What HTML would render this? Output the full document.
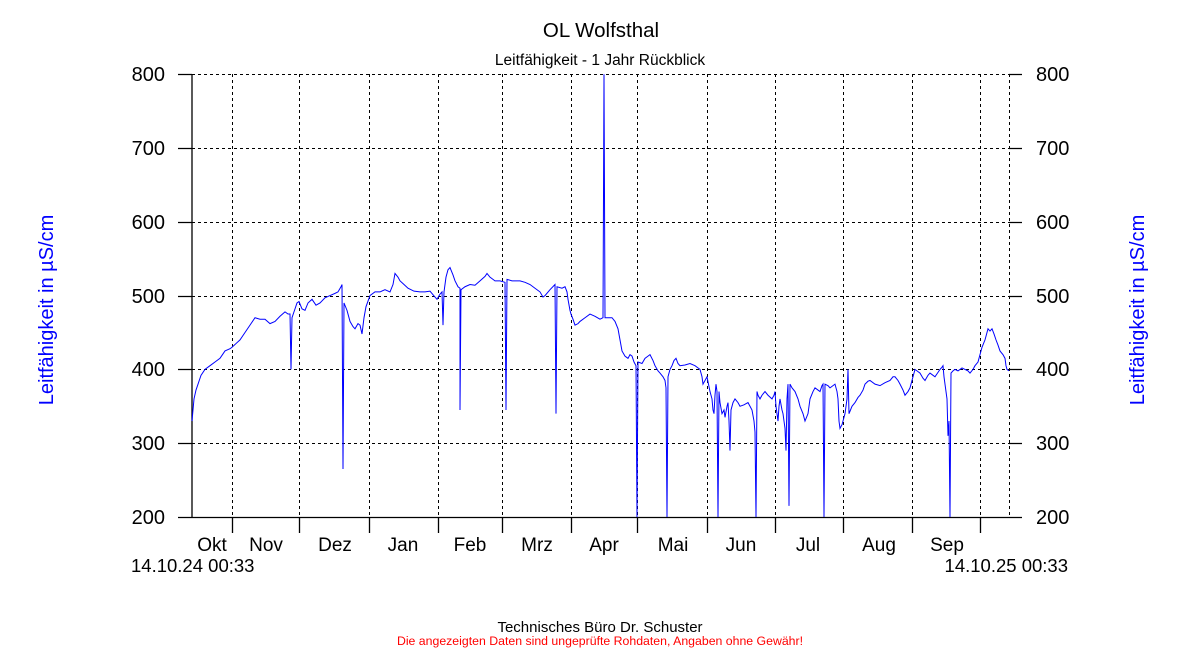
<!DOCTYPE html>
<html><head><meta charset="utf-8"><style>
html,body{margin:0;padding:0;background:#fff}
svg{display:block;font-family:"Liberation Sans",Arial,sans-serif}
</style></head><body>
<svg width="1200" height="650" viewBox="0 0 1200 650">
<text x="601" y="37" font-size="20.5" text-anchor="middle">OL Wolfsthal</text>
<text x="600" y="65" font-size="15.5" text-anchor="middle">Leitfähigkeit - 1 Jahr Rückblick</text>
<g stroke="#000" stroke-width="1" stroke-dasharray="3,3" fill="none">
<path d="M192 74.5H1022M192 148.5H1022M192 222.5H1022M192 296.5H1022M192 369.5H1022M192 443.5H1022"/>
<path d="M232.5 74V517M299.5 74V517M369.5 74V517M438.5 74V517M502.5 74V517M571.5 74V517M637.5 74V517M707.5 74V517M775.5 74V517M843.5 74V517M912.5 74V517M980.5 74V517M1009.5 74V517"/>
</g>
<g stroke="#000" stroke-width="1.3" fill="none">
<path d="M192 74V517M178 517.5H1022"/>
<path d="M178 74.5H192M178 148.5H192M178 222.5H192M178 296.5H192M178 369.5H192M178 443.5H192"/>
<path d="M1009 74.5H1022M1009 148.5H1022M1009 222.5H1022M1009 296.5H1022M1009 369.5H1022M1009 443.5H1022"/>
<path d="M232.5 517V533M299.5 517V533M369.5 517V533M438.5 517V533M502.5 517V533M571.5 517V533M637.5 517V533M707.5 517V533M775.5 517V533M843.5 517V533M912.5 517V533M980.5 517V533"/>
</g>
<g font-size="20" text-anchor="end">
<text x="165" y="81">800</text><text x="165" y="155">700</text><text x="165" y="229">600</text><text x="165" y="303">500</text><text x="165" y="376">400</text><text x="165" y="450">300</text><text x="165" y="524">200</text>
</g>
<g font-size="20" text-anchor="start">
<text x="1036" y="81">800</text><text x="1036" y="155">700</text><text x="1036" y="229">600</text><text x="1036" y="303">500</text><text x="1036" y="376">400</text><text x="1036" y="450">300</text><text x="1036" y="524">200</text>
</g>
<g font-size="19" text-anchor="middle">
<text x="212" y="551">Okt</text><text x="266" y="551">Nov</text><text x="335" y="551">Dez</text><text x="403" y="551">Jan</text><text x="470" y="551">Feb</text><text x="537" y="551">Mrz</text><text x="604" y="551">Apr</text><text x="673" y="551">Mai</text><text x="741" y="551">Jun</text><text x="808" y="551">Jul</text><text x="879" y="551">Aug</text><text x="947" y="551">Sep</text>
</g>
<text x="131" y="572" font-size="18.5">14.10.24 00:33</text>
<text x="1068" y="572" font-size="18.5" text-anchor="end">14.10.25 00:33</text>
<text transform="translate(53,310) rotate(-90)" font-size="20" fill="#0000ff" text-anchor="middle">Leitfähigkeit in µS/cm</text>
<text transform="translate(1144,310) rotate(-90)" font-size="20" fill="#0000ff" text-anchor="middle">Leitfähigkeit in µS/cm</text>
<g transform="matrix(1 0 0 -0.738 0 664.6)">
<polyline fill="none" stroke="#0000ff" stroke-width="1" vector-effect="non-scaling-stroke" points="192,330 193,345 194,360 196,372 198,380 201,392 205,400 210,405 215,410 220,415 225,425 230,428 232,430 236,435 240,440 245,450 250,460 255,470 260,468 265,468 270,462 275,465 280,472 285,478 288,475 290,475 291,400 292,470 295,482 297,490 299,492 302,482 305,480 308,490 312,495 316,487 320,490 325,497 330,500 335,503 338,505 341,512 342,515 343,265 344,490 347,480 350,465 353,458 355,455 358,462 360,460 362,448 364,470 366,485 370,500 375,505 380,505 385,508 390,505 393,515 395,530 398,525 400,520 404,515 408,510 414,506 420,505 425,505 430,506 435,498 437,495 440,502 442,505 443,460 444,505 446,525 448,535 450,538 453,528 455,520 458,512 460,510 460,345 461,508 465,512 470,515 475,514 480,520 485,526 487,530 490,525 493,522 495,520 500,520 505,518 506,345 507,522 512,520 520,520 525,518 530,515 535,510 540,505 543,498 545,500 550,508 555,515 556,340 557,512 562,510 565,512 567,505 568,495 570,480 571,475 573,468 575,460 578,462 580,465 585,470 590,475 595,472 600,468 603,470 604,800 605,470 608,470 612,470 615,465 618,455 620,440 622,425 625,418 628,415 630,420 632,418 634,410 636,405 637,200 638,410 642,408 645,415 648,418 650,420 653,412 655,405 658,398 660,395 663,390 665,385 666,375 667,200 668,390 670,400 672,405 674,412 676,415 678,408 680,405 685,406 690,408 695,405 700,400 702,390 703,380 705,385 707,390 710,370 712,360 713,345 714,340 715,365 716,380 717,370 718,200 719,370 720,355 722,340 724,345 725,335 727,350 728,355 729,330 730,290 731,345 733,355 735,360 738,355 740,350 744,352 748,355 750,350 752,345 754,330 755,315 756,200 757,370 758,365 760,360 762,365 765,370 768,365 772,360 774,365 775,370 776,350 778,330 779,350 780,360 782,345 783,340 785,320 786,290 787,360 788,380 789,215 790,380 792,375 795,370 798,360 800,350 803,340 805,330 808,340 810,360 813,370 815,375 818,372 820,370 822,378 823,380 824,200 825,380 828,378 830,375 833,378 835,380 837,370 838,360 839,330 840,320 842,325 845,340 847,360 848,400 849,340 852,350 855,355 858,362 860,365 863,372 865,380 868,384 870,385 875,380 880,378 885,382 890,385 893,390 895,390 898,385 900,380 903,372 905,365 908,370 910,375 913,390 915,400 918,397 920,395 923,388 925,385 928,392 930,395 933,392 935,390 938,396 940,400 942,403 943,405 944,390 945,380 946,370 947,360 948,310 949,330 950,200 951,395 953,398 955,400 958,398 962,402 965,400 968,398 970,395 973,400 975,405 978,410 980,420 982,430 985,440 987,450 988,455 990,452 992,455 994,448 996,440 998,433 1000,425 1003,420 1005,415 1006,405 1007,400 1009,398"/>
</g>
<text x="600" y="632" font-size="15" text-anchor="middle">Technisches Büro Dr. Schuster</text>
<text x="600" y="645" font-size="12.3" fill="#ff0000" text-anchor="middle">Die angezeigten Daten sind ungeprüfte Rohdaten, Angaben ohne Gewähr!</text>
</svg>
</body></html>
